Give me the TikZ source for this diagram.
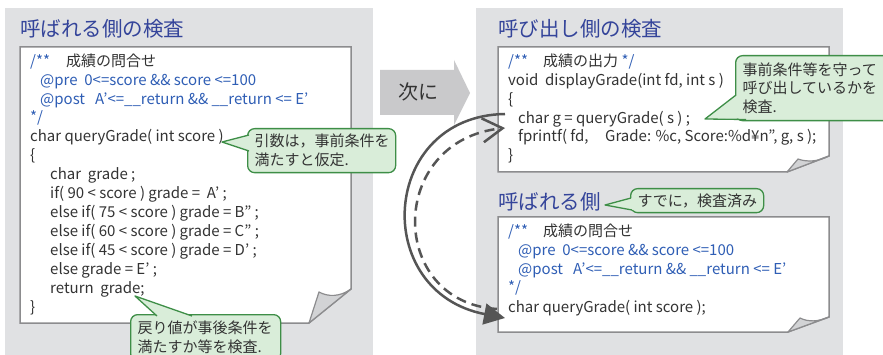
\documentclass[tikz,border=0pt]{standalone}
\usepackage{fontspec}
\setmainfont{Noto Sans CJK JP}
\usetikzlibrary{arrows.meta}

\definecolor{panelgray}{HTML}{E0E1E3}
\definecolor{boxline}{HTML}{8C8C8E}
\definecolor{curlfill}{HTML}{D2D3D5}
\definecolor{codetext}{HTML}{333333}
\definecolor{commentblue}{HTML}{2F5EB5}
\definecolor{titleblue}{HTML}{34449A}
\definecolor{notefill}{HTML}{D9EDD9}
\definecolor{noteline}{HTML}{3E8E47}
\definecolor{flowgray}{HTML}{555555}
\definecolor{nextgray}{HTML}{C9C9CB}

\newcommand{\cmt}[1]{\textcolor{commentblue}{#1}}

\tikzset{
  panel/.style={fill=panelgray},
  codebox/.style={draw=boxline, fill=white, line width=1.5pt, line join=miter},
  curl/.style={draw=boxline, fill=curlfill, line width=1.2pt, line join=round},
  code/.style={anchor=base west, inner sep=0pt, text=codetext,
    font=\fontsize{15}{18}\selectfont},
  paneltitle/.style={anchor=base west, inner sep=0pt, text=titleblue,
    font=\fontsize{20.5}{24}\selectfont},
  note/.style={draw=noteline, fill=notefill, line width=1.3pt, rounded corners=7pt,
    anchor=north west, inner xsep=7pt, inner ysep=0pt, align=left, text=codetext,
    font=\fontsize{15}{19}\selectfont},
  notetip/.style={fill=notefill},
  notetipline/.style={draw=noteline, line width=1.3pt, line join=round},
  flow/.style={draw=flowgray, line width=2.5pt},
}

\begin{document}
\begin{tikzpicture}[x=1pt, y=-1pt]
\clip (0,0) rectangle (883,355);
\fill[white] (0,0) rectangle (883,355);

% two grey panels
\fill[panel] (5,8) rectangle (373,360);
\fill[panel] (476,8) rectangle (843,360);

% "next" arrow between the panels
\fill[nextgray] (380,70) -- (454,70) -- (454,60) -- (470,93) -- (454,125)
  -- (454,115) -- (380,115) -- cycle;
\node[anchor=base, inner sep=0pt, text=codetext, font=\fontsize{20}{24}\selectfont]
  (next) at (418,100) {次に};

% panel titles
\node[paneltitle] (ttlA) at (20,37) {呼ばれる側の検査};
\node[paneltitle] (ttlB) at (498,37) {呼び出し側の検査};
\node[paneltitle] (ttlC) at (498,210) {呼ばれる側};

% code sheets with curled corner
\draw[codebox] (20,47) -- (351,47) -- (351,289) -- (309,323) -- (20,323) -- cycle;
\draw[curl] (351,289) .. controls (340,297) and (328,297) .. (319,292) -- (309,323) -- cycle;

\draw[codebox] (498,47) -- (829,47) -- (829,156) -- (787,172) -- (498,172) -- cycle;
\draw[curl] (829,156) .. controls (818,162) and (806,162) .. (798,159) -- (787,172) -- cycle;

\draw[codebox] (498,217) -- (829,217) -- (829,317) -- (788,332) -- (498,332) -- cycle;
\draw[curl] (829,317) .. controls (818,322) and (808,322) .. (800,318) -- (788,332) -- cycle;

% callee: definition with contract
\node[code] (a1) at (30,67) {\cmt{\makebox[36pt][l]{/**}}成績の問合せ};
\node[code] (a2) at (40,86) {\cmt{@pre\ \ 0<=score \&\& score <=100}};
\node[code] (a3) at (40,105) {\cmt{\makebox[55pt][l]{@post}A’<=\_\_return \&\& \_\_return <= E’}};
\node[code] (a4) at (30,123) {\cmt{*/}};
\node[code] (a5) at (30,142) {char queryGrade( int score )};
\node[code] (a6) at (30,161) {\{};
\node[code] (a7) at (50,180) {char\ \ grade ;};
\node[code] (a8) at (50,199) {if( 90 < score ) grade =\ \ A’ ;};
\node[code] (a9) at (50,218) {else if( 75 < score ) grade = B” ;};
\node[code] (a10) at (50,237) {else if( 60 < score ) grade = C” ;};
\node[code] (a11) at (50,256) {else if( 45 < score ) grade = D’ ;};
\node[code] (a12) at (50,274) {else grade = E’ ;};
\node[code] (a13) at (50,293) {return\ \ grade;};
\node[code] (a14) at (30,312) {\}};

% caller
\node[code] (b1) at (508,67) {\cmt{\makebox[35pt][l]{/**}}成績の出力 \cmt{*/}};
\node[code] (b2) at (508,86) {void\ \ displayGrade(int fd, int s )};
\node[code] (b3) at (508,105) {\{};
\node[code] (b4) at (518,124) {char g = queryGrade( s ) ;};
\node[code] (b5) at (518,142) {\makebox[87pt][l]{fprintf( fd,}Grade: \%c, Score:\%d¥n”, g, s );};
\node[code] (b6) at (508,161) {\}};

% callee declaration
\node[code] (c1) at (508,237) {\cmt{\makebox[35pt][l]{/**}}成績の問合せ};
\node[code] (c2) at (518,256) {\cmt{@pre\ \ 0<=score \&\& score <=100}};
\node[code] (c3) at (518,275) {\cmt{\makebox[55pt][l]{@post}A’<=\_\_return \&\& \_\_return <= E’}};
\node[code] (c4) at (508,292) {\cmt{*/}};
\node[code] (c5) at (508,312) {char queryGrade( int score );};

% callouts
\node[note, minimum width=148pt, minimum height=44pt, text width=134pt]
  (noteArg) at (247,128) {引数は，事前条件を\\満たすと仮定.};
\fill[notetip] (249,135) -- (222,142) -- (249,151) -- cycle;
\draw[notetipline] (249,135) -- (222,142) -- (249,151);

\node[note, minimum width=150pt, minimum height=46pt, text width=136pt]
  (noteRet) at (130,314) {戻り値が事後条件を\\満たすか等を検査.};
\fill[notetip] (157,316) -- (135,296) -- (192,316) -- cycle;
\draw[notetipline] (157,316) -- (135,296) -- (192,316);

\node[note, minimum width=155pt, minimum height=65pt, text width=141pt,
  font=\fontsize{15}{18.5}\selectfont]
  (noteCall) at (735,55) {事前条件等を守って\\呼び出しているかを\\検査.};
\fill[notetip] (737,95) -- (705,119) -- (746,118.5) -- cycle;
\draw[notetipline] (736,95) -- (705,119) -- (746,119.5);

\node[note, minimum width=133pt, minimum height=24pt, text width=119pt]
  (noteDone) at (630,188) {すでに，検査済み};
\fill[notetip] (632,198) -- (605,205) -- (633,210) -- cycle;
\draw[notetipline] (631,198) -- (605,205) -- (632,210);

% call / return flow
\coordinate (callSite) at (505,114);
\coordinate (declIn) at (505,318);
\coordinate (declOut) at (497,309);
\coordinate (callBack) at (505,128);
\draw[flow, -{Triangle[length=21pt, width=21pt]}]
  (callSite) .. controls (380,116) and (370,292) .. (declIn);
\draw[flow, dash pattern=on 10pt off 6pt,
  -{Straight Barb[length=20pt, width=24pt]}]
  (declOut) .. controls (387,302) and (387,140) .. (callBack);
\end{tikzpicture}
\end{document}
